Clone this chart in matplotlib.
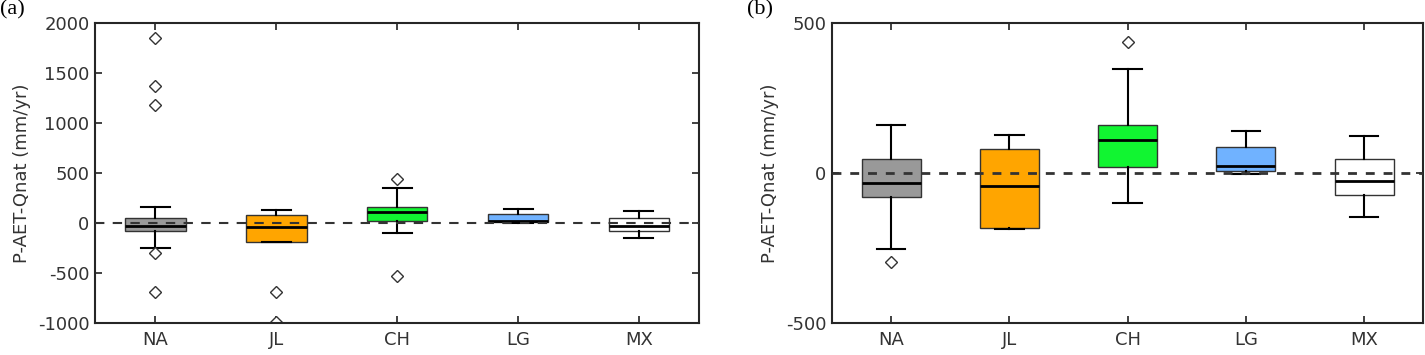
import matplotlib
matplotlib.use("Agg")
import matplotlib.pyplot as plt

plt.rcParams["axes.unicode_minus"] = False

# box statistics (mm/yr)
categories = ["NA", "JL", "CH", "LG", "MX"]
whislo = [-252, -187, -101, -2, -146]
q1 = [-78, -184, 20, 8, -74]
med = [-33, -42, 111, 25, -26]
q3 = [47, 80, 160, 87, 47]
whishi = [160, 128, 348, 141, 125]
fliers = [[1850, 1370, 1185, -298, -690],
          [-690, -990],
          [437, -530],
          [],
          []]
box_colors = ["#999999", "#FFA500", "#11F531", "#70B2FF", "#FFFFFF"]

txt_col = "#333333"

stats = []
for i, c in enumerate(categories):
    stats.append(dict(label=c, whislo=whislo[i], q1=q1[i], med=med[i],
                      q3=q3[i], whishi=whishi[i], fliers=fliers[i]))

fig = plt.figure(figsize=(14.25, 3.55), dpi=100)
axa = fig.add_axes([0.0667, 0.0901, 0.4241, 0.844])
axb = fig.add_axes([0.5839, 0.0901, 0.4149, 0.844])


def draw_panel(ax, ylim, yticks, dash_lw, dashes):
    bp = ax.bxp(stats, positions=range(1, len(categories) + 1), widths=0.5,
                patch_artist=True, showfliers=True,
                boxprops=dict(edgecolor="#333333", linewidth=1.0),
                medianprops=dict(color="black", linewidth=2.0),
                whiskerprops=dict(color="black", linewidth=1.5),
                capprops=dict(color="black", linewidth=1.5),
                capwidths=0.24,
                flierprops=dict(marker="D", markersize=6.5, markerfacecolor="white",
                                markeredgecolor="#333333", markeredgewidth=1.0))
    for patch, col in zip(bp["boxes"], box_colors):
        patch.set_facecolor(col)
    ax.axhline(0, color="#333333", lw=dash_lw, dashes=dashes, zorder=5)
    ax.set_xlim(0.5, 5.5)
    ax.set_ylim(*ylim)
    ax.set_yticks(yticks)
    ax.set_xticks(range(1, len(categories) + 1))
    ax.set_xticklabels(categories)
    ax.tick_params(direction="in", length=5, width=1.3, top=True, right=True,
                   labelsize=13, colors=txt_col, pad=6)
    ax.tick_params(axis="y", pad=4)
    for s in ax.spines.values():
        s.set_linewidth(1.5)
        s.set_color("#262626")
    ax.set_ylabel("P-AET-Qnat (mm/yr)", fontsize=13, color=txt_col, labelpad=5)


draw_panel(axa, (-1000, 2000), [-1000, -500, 0, 500, 1000, 1500, 2000], 1.5, (4.5, 4))
draw_panel(axb, (-500, 500), [-500, 0, 500], 2.0, (3.2, 3.2))

fig.text(0.0, 1.0, "(a)", fontsize=16, family="Liberation Serif", va="top", ha="left")
fig.text(0.524, 1.0, "(b)", fontsize=16, family="Liberation Serif", va="top", ha="left")

fig.savefig("out.png", dpi=100)
